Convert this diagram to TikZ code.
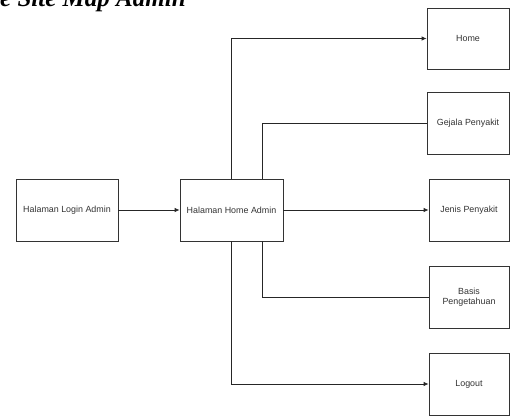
\documentclass[tikz,border=0pt]{standalone}
\usepackage{fontspec}
\setmainfont{Liberation Serif}
\newfontfamily\arialf{Liberation Sans}
\usetikzlibrary{arrows.meta}
\begin{document}
\begin{tikzpicture}[x=1pt,y=-1pt,
  pagebox/.style={draw=black!80, line width=0.8pt, inner sep=0pt, align=center,
    font=\arialf\fontsize{8.9}{10.5}\selectfont, text=black!80},
  link/.style={draw=black!85, line width=0.8pt},
  arr/.style={link, -{Latex[length=5pt,width=4.5pt]}}]
\clip (0,0) rectangle (510,415);
\useasboundingbox (0,0) rectangle (510,415);
% title (cropped at top)
\node[anchor=base west, inner sep=0pt, font=\fontsize{25}{28}\selectfont\bfseries\itshape] (title) at (0,6) {e Site Map Admin};
% boxes
\node[pagebox, minimum width=102pt, minimum height=62pt] (login) at (67,210) {Halaman Login Admin};
\node[pagebox, minimum width=103pt, minimum height=62pt] (admin) at (231.5,210) {Halaman Home Admin};
\node[pagebox, minimum width=82pt, minimum height=61pt] (home) at (468,38.5) {Home};
\node[pagebox, minimum width=82pt, minimum height=62pt] (gejala) at (468,123) {Gejala Penyakit};
\node[pagebox, minimum width=80pt, minimum height=62pt] (jenis) at (469,210) {Jenis Penyakit};
\node[pagebox, minimum width=80pt, minimum height=62pt] (basis) at (469,297) {Basis\\Pengetahuan};
\node[pagebox, minimum width=80pt, minimum height=62pt] (logout) at (469,384) {Logout};
% connectors
\draw[arr] (login) -- (admin);
\draw[arr] (admin) -- (jenis);
\draw[arr] (admin.north) |- (home.west);
\draw[arr] (admin.south) |- (logout.west);
\draw[link] ([xshift=30.5pt]admin.north) |- (gejala.west);
\draw[link] ([xshift=30.5pt]admin.south) |- (basis.west);
\end{tikzpicture}
\end{document}
